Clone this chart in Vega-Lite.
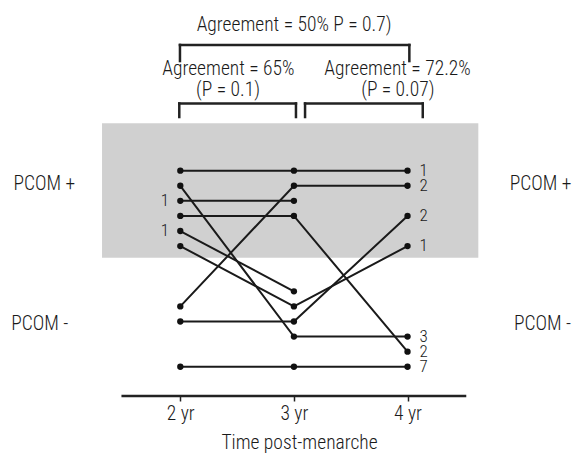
{
  "$schema": "https://vega.github.io/schema/vega-lite/v6.json",
  "width": 575,
  "height": 396,
  "padding": {"left": 0, "top": 0, "right": 0, "bottom": 63},
  "autosize": {"type": "none"},
  "background": "white",
  "config": {"view": {"stroke": null}, "font": "Roboto Condensed, Arial Narrow, Liberation Sans Narrow, Roboto, sans-serif"},
  "datasets": {
    "points": [
      {"id": "A", "time": 2, "level": 0}, {"id": "A", "time": 3, "level": 0}, {"id": "A", "time": 4, "level": 0},
      {"id": "B", "time": 2, "level": 9}, {"id": "B", "time": 3, "level": 1}, {"id": "B", "time": 4, "level": 1},
      {"id": "C", "time": 2, "level": 2}, {"id": "C", "time": 3, "level": 2},
      {"id": "D", "time": 2, "level": 3}, {"id": "D", "time": 3, "level": 3}, {"id": "D", "time": 4, "level": 12},
      {"id": "E", "time": 2, "level": 4}, {"id": "E", "time": 3, "level": 8},
      {"id": "F", "time": 2, "level": 5}, {"id": "F", "time": 3, "level": 9}, {"id": "F", "time": 4, "level": 5},
      {"id": "G", "time": 2, "level": 1}, {"id": "G", "time": 3, "level": 11}, {"id": "G", "time": 4, "level": 11},
      {"id": "H", "time": 2, "level": 10}, {"id": "H", "time": 3, "level": 10}, {"id": "H", "time": 4, "level": 3},
      {"id": "I", "time": 2, "level": 13}, {"id": "I", "time": 3, "level": 13}, {"id": "I", "time": 4, "level": 13}
    ],
    "counts": [
      {"time": 4.141, "level": 0, "n": "1"},
      {"time": 4.141, "level": 1, "n": "2"},
      {"time": 4.141, "level": 3, "n": "2"},
      {"time": 4.141, "level": 5, "n": "1"},
      {"time": 4.141, "level": 11, "n": "3"},
      {"time": 4.141, "level": 12, "n": "2"},
      {"time": 4.141, "level": 13, "n": "7"},
      {"time": 1.865, "level": 2, "n": "1"},
      {"time": 1.865, "level": 4, "n": "1"}
    ],
    "notes": [
      {"time": 3.001, "level": -9.28, "text": "Agreement = 50% P = 0.7)"},
      {"time": 2.423, "level": -6.35, "text": "Agreement = 65%"},
      {"time": 2.42, "level": -4.97, "text": "(P = 0.1)"},
      {"time": 3.912, "level": -6.35, "text": "Agreement = 72.2%"},
      {"time": 3.915, "level": -4.97, "text": "(P = 0.07)"},
      {"time": 0.803, "level": 1.3, "text": "PCOM +"},
      {"time": 0.762, "level": 10.56, "text": "PCOM -"},
      {"time": 5.17, "level": 1.3, "text": "PCOM +"},
      {"time": 5.187, "level": 10.56, "text": "PCOM -"}
    ],
    "segments": [
      {"t1": 1.997, "t2": 4.016, "l1": -8.34, "l2": -8.34},
      {"t1": 1.997, "t2": 1.997, "l1": -8.34, "l2": -7.27},
      {"t1": 4.016, "t2": 4.016, "l1": -8.34, "l2": -7.27},
      {"t1": 1.991, "t2": 3.018, "l1": -4.46, "l2": -4.46},
      {"t1": 1.991, "t2": 1.991, "l1": -4.46, "l2": -3.56},
      {"t1": 3.018, "t2": 3.018, "l1": -4.46, "l2": -3.56},
      {"t1": 3.098, "t2": 4.134, "l1": -4.46, "l2": -4.46},
      {"t1": 3.098, "t2": 3.098, "l1": -4.46, "l2": -3.56},
      {"t1": 4.134, "t2": 4.134, "l1": -4.46, "l2": -3.56},
      {"t1": 1.493, "t2": 4.506, "l1": 14.94, "l2": 14.94}
    ],
    "band": [{"t1": 1.311, "t2": 4.623, "l1": -3.14, "l2": 5.77}]
  },
  "layer": [
    {
      "data": {"name": "band"},
      "mark": {"type": "rect", "fill": "#d0d0d0"},
      "encoding": {
        "x": {"field": "t1", "type": "quantitative", "scale": {"domain": [0.413, 5.474], "nice": false, "zero": false},
          "axis": {"values": [2, 3, 4], "labelExpr": "datum.value + ' yr'", "domain": false, "grid": false, "tickSize": 5, "tickColor": "#222", "tickWidth": 1.5, "labelFontSize": 19.5, "labelFontWeight": 300, "labelColor": "#1a1a1a", "labelPadding": 3, "labelFont": "Roboto Condensed, Arial Narrow, Liberation Sans Narrow, Roboto, sans-serif", "title": "Time post-menarche", "titleFont": "Roboto Condensed, Arial Narrow, Liberation Sans Narrow, Roboto, sans-serif", "titleFontSize": 19.5, "titleFontWeight": 300, "titleColor": "#1a1a1a", "titleX": 299, "titleY": 52, "titleBaseline": "alphabetic"}},
        "x2": {"field": "t2"},
        "y": {"field": "l1", "type": "quantitative", "scale": {"domain": [-11.32, 14.94], "nice": false, "zero": false, "reverse": true}, "axis": null},
        "y2": {"field": "l2"}
      }
    },
    {
      "data": {"name": "segments"},
      "mark": {"type": "rule", "stroke": "#222", "strokeWidth": 2.5, "strokeCap": "square"},
      "encoding": {
        "x": {"field": "t1", "type": "quantitative", "scale": {"domain": [0.413, 5.474], "nice": false, "zero": false},
          "axis": {"values": [2, 3, 4], "labelExpr": "datum.value + ' yr'", "domain": false, "grid": false, "tickSize": 5, "tickColor": "#222", "tickWidth": 1.5, "labelFontSize": 19.5, "labelFontWeight": 300, "labelColor": "#1a1a1a", "labelPadding": 3, "labelFont": "Roboto Condensed, Arial Narrow, Liberation Sans Narrow, Roboto, sans-serif", "title": "Time post-menarche", "titleFont": "Roboto Condensed, Arial Narrow, Liberation Sans Narrow, Roboto, sans-serif", "titleFontSize": 19.5, "titleFontWeight": 300, "titleColor": "#1a1a1a", "titleX": 299, "titleY": 52, "titleBaseline": "alphabetic"}},
        "x2": {"field": "t2"},
        "y": {"field": "l1", "type": "quantitative", "scale": {"domain": [-11.32, 14.94], "nice": false, "zero": false, "reverse": true}, "axis": null},
        "y2": {"field": "l2"}
      }
    },
    {
      "data": {"name": "points"},
      "mark": {"type": "line", "stroke": "#1a1a1a", "strokeWidth": 2},
      "encoding": {
        "x": {"field": "time", "type": "quantitative", "scale": {"domain": [0.413, 5.474], "nice": false, "zero": false},
          "axis": {"values": [2, 3, 4], "labelExpr": "datum.value + ' yr'", "domain": false, "grid": false, "tickSize": 5, "tickColor": "#222", "tickWidth": 1.5, "labelFontSize": 19.5, "labelFontWeight": 300, "labelColor": "#1a1a1a", "labelPadding": 3, "labelFont": "Roboto Condensed, Arial Narrow, Liberation Sans Narrow, Roboto, sans-serif", "title": "Time post-menarche", "titleFont": "Roboto Condensed, Arial Narrow, Liberation Sans Narrow, Roboto, sans-serif", "titleFontSize": 19.5, "titleFontWeight": 300, "titleColor": "#1a1a1a", "titleX": 299, "titleY": 52, "titleBaseline": "alphabetic"}},
        "y": {"field": "level", "type": "quantitative", "scale": {"domain": [-11.32, 14.94], "nice": false, "zero": false, "reverse": true}, "axis": null},
        "detail": {"field": "id"},
        "order": {"field": "time"}
      }
    },
    {
      "data": {"name": "points"},
      "mark": {"type": "point", "filled": true, "fill": "#111", "opacity": 1, "size": 40, "shape": "circle"},
      "encoding": {
        "x": {"field": "time", "type": "quantitative", "scale": {"domain": [0.413, 5.474], "nice": false, "zero": false},
          "axis": {"values": [2, 3, 4], "labelExpr": "datum.value + ' yr'", "domain": false, "grid": false, "tickSize": 5, "tickColor": "#222", "tickWidth": 1.5, "labelFontSize": 19.5, "labelFontWeight": 300, "labelColor": "#1a1a1a", "labelPadding": 3, "labelFont": "Roboto Condensed, Arial Narrow, Liberation Sans Narrow, Roboto, sans-serif", "title": "Time post-menarche", "titleFont": "Roboto Condensed, Arial Narrow, Liberation Sans Narrow, Roboto, sans-serif", "titleFontSize": 19.5, "titleFontWeight": 300, "titleColor": "#1a1a1a", "titleX": 299, "titleY": 52, "titleBaseline": "alphabetic"}},
        "y": {"field": "level", "type": "quantitative", "scale": {"domain": [-11.32, 14.94], "nice": false, "zero": false, "reverse": true}, "axis": null}
      }
    },
    {
      "data": {"name": "counts"},
      "mark": {"type": "text", "fontSize": 17, "fontWeight": 300, "align": "center", "baseline": "middle", "fill": "#1a1a1a", "font": "Roboto Condensed, Arial Narrow, Liberation Sans Narrow, Roboto, sans-serif"},
      "encoding": {
        "x": {"field": "time", "type": "quantitative", "scale": {"domain": [0.413, 5.474], "nice": false, "zero": false},
          "axis": {"values": [2, 3, 4], "labelExpr": "datum.value + ' yr'", "domain": false, "grid": false, "tickSize": 5, "tickColor": "#222", "tickWidth": 1.5, "labelFontSize": 19.5, "labelFontWeight": 300, "labelColor": "#1a1a1a", "labelPadding": 3, "labelFont": "Roboto Condensed, Arial Narrow, Liberation Sans Narrow, Roboto, sans-serif", "title": "Time post-menarche", "titleFont": "Roboto Condensed, Arial Narrow, Liberation Sans Narrow, Roboto, sans-serif", "titleFontSize": 19.5, "titleFontWeight": 300, "titleColor": "#1a1a1a", "titleX": 299, "titleY": 52, "titleBaseline": "alphabetic"}},
        "y": {"field": "level", "type": "quantitative", "scale": {"domain": [-11.32, 14.94], "nice": false, "zero": false, "reverse": true}, "axis": null},
        "text": {"field": "n"}
      }
    },
    {
      "data": {"name": "notes"},
      "mark": {"type": "text", "fontSize": 19.5, "fontWeight": 300, "align": "center", "baseline": "alphabetic", "fill": "#1a1a1a", "font": "Roboto Condensed, Arial Narrow, Liberation Sans Narrow, Roboto, sans-serif"},
      "encoding": {
        "x": {"field": "time", "type": "quantitative", "scale": {"domain": [0.413, 5.474], "nice": false, "zero": false},
          "axis": {"values": [2, 3, 4], "labelExpr": "datum.value + ' yr'", "domain": false, "grid": false, "tickSize": 5, "tickColor": "#222", "tickWidth": 1.5, "labelFontSize": 19.5, "labelFontWeight": 300, "labelColor": "#1a1a1a", "labelPadding": 3, "labelFont": "Roboto Condensed, Arial Narrow, Liberation Sans Narrow, Roboto, sans-serif", "title": "Time post-menarche", "titleFont": "Roboto Condensed, Arial Narrow, Liberation Sans Narrow, Roboto, sans-serif", "titleFontSize": 19.5, "titleFontWeight": 300, "titleColor": "#1a1a1a", "titleX": 299, "titleY": 52, "titleBaseline": "alphabetic"}},
        "y": {"field": "level", "type": "quantitative", "scale": {"domain": [-11.32, 14.94], "nice": false, "zero": false, "reverse": true}, "axis": null},
        "text": {"field": "text"}
      }
    }
  ]
}
